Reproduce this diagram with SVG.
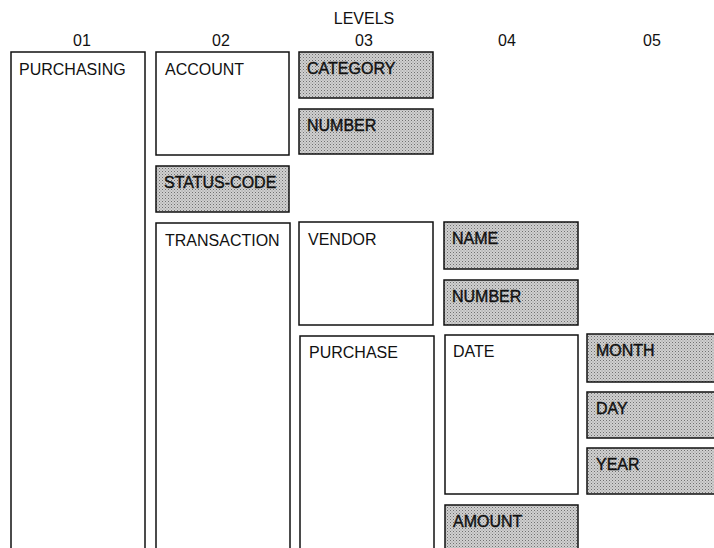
<svg xmlns="http://www.w3.org/2000/svg" width="714" height="548" viewBox="0 0 714 548">
<defs>
<pattern id="dots" width="3" height="3" patternUnits="userSpaceOnUse">
<rect width="3" height="3" fill="#d0d0d0"/>
<rect x="0" y="0" width="1" height="1" fill="#707070"/>
<rect x="1.5" y="1.5" width="1" height="1" fill="#909090"/>
</pattern>
</defs>
<style>
text{font-family:"Liberation Sans",Arial,sans-serif;font-size:16px;fill:#111}
.box{fill:#fff;stroke:#111;stroke-width:1.5}
.sh{fill:url(#dots);stroke:#111;stroke-width:1.5}
.st{stroke:#111;stroke-width:0.4}
.hd{text-anchor:middle;font-size:16px}
</style>
<rect width="714" height="548" fill="#fff"/>
<g id="header">
<text class="hd" x="364" y="24">LEVELS</text>
<text class="hd" x="82" y="46">01</text>
<text class="hd" x="221" y="46">02</text>
<text class="hd" x="364" y="46">03</text>
<text class="hd" x="507" y="46">04</text>
<text class="hd" x="652" y="46">05</text>
</g>
<g id="purchasing"><rect class="box" x="11" y="52" width="134" height="510"/><text x="19" y="75">PURCHASING</text></g>
<g id="account"><rect class="box" x="156" y="52" width="133" height="103"/><text x="165" y="75">ACCOUNT</text></g>
<g id="category"><rect class="sh" x="299" y="52" width="134" height="46"/><text class="st" x="307" y="74">CATEGORY</text></g>
<g id="account-number"><rect class="sh" x="299" y="109" width="134" height="45"/><text class="st" x="307" y="131">NUMBER</text></g>
<g id="status-code"><rect class="sh" x="156" y="166" width="133" height="46"/><text class="st" x="164" y="188">STATUS-CODE</text></g>
<g id="transaction"><rect class="box" x="156" y="223" width="134" height="340"/><text x="165" y="246">TRANSACTION</text></g>
<g id="vendor"><rect class="box" x="299" y="222" width="134" height="103"/><text x="308" y="245">VENDOR</text></g>
<g id="name"><rect class="sh" x="444" y="222" width="134" height="47"/><text class="st" x="452" y="244">NAME</text></g>
<g id="vendor-number"><rect class="sh" x="444" y="280" width="134" height="45"/><text class="st" x="452" y="302">NUMBER</text></g>
<g id="purchase"><rect class="box" x="300" y="336" width="134" height="230"/><text x="309" y="358">PURCHASE</text></g>
<g id="date"><rect class="box" x="445" y="335" width="133" height="159"/><text x="453" y="357">DATE</text></g>
<g id="month"><rect class="sh" x="587" y="334" width="135" height="48"/><text class="st" x="596" y="356">MONTH</text></g>
<g id="day"><rect class="sh" x="587" y="392" width="135" height="46"/><text class="st" x="596" y="414">DAY</text></g>
<g id="year"><rect class="sh" x="587" y="448" width="135" height="46"/><text class="st" x="596" y="470">YEAR</text></g>
<g id="amount"><rect class="sh" x="445" y="505" width="133" height="60"/><text class="st" x="453" y="527">AMOUNT</text></g>
</svg>
